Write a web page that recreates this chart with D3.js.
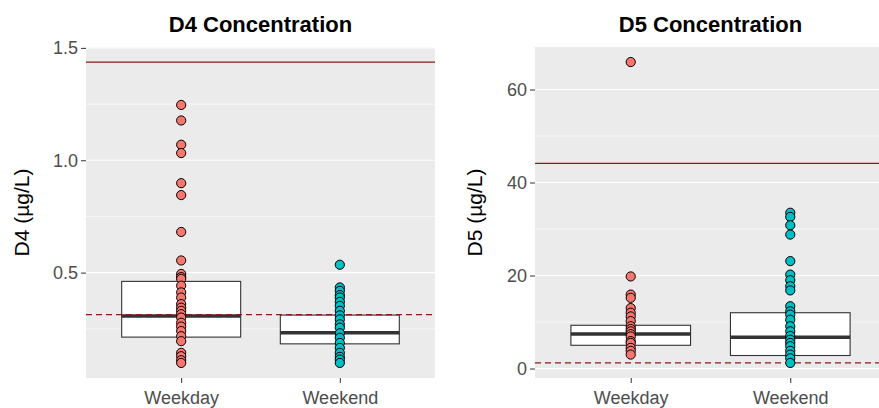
<!DOCTYPE html>
<html>
<head>
<meta charset="utf-8">
<script src="https://cdn.jsdelivr.net/npm/d3@7"></script>
<style>
  body { margin: 0; background: #fff; }
  svg { display: block; font-family: "Liberation Sans", Arial, sans-serif; }
</style>
</head>
<body>
<svg id="chart" width="879" height="408"></svg>
<script>
// categories and colours
const groups = ["Weekday", "Weekend"];
const groupColors = ["#F8766D", "#00BFC4"];

// D4 readings (ug/L)
const d4Weekday = [1.246, 1.177, 1.069, 1.032, 0.898, 0.845, 0.681, 0.554, 0.494, 0.48, 0.472, 0.442,
  0.412, 0.389, 0.36, 0.344, 0.33, 0.315, 0.30, 0.277, 0.26, 0.24, 0.217, 0.195, 0.143, 0.128, 0.11, 0.098];
const d4Weekend = [0.535, 0.434, 0.419, 0.40, 0.389, 0.37, 0.352, 0.33, 0.31, 0.292, 0.27, 0.255,
  0.23, 0.21, 0.187, 0.165, 0.143, 0.125, 0.113, 0.098];
// box stats [q1, median, q3] per group
const d4Boxes = [[0.213, 0.307, 0.461], [0.183, 0.232, 0.311]];
const d4Limits = [1.437, 0.313]; // solid, dashed

// D5 readings (ug/L)
const d5Weekday = [65.9, 19.8, 15.9, 15.2, 13.0, 12.0, 11.2, 10.2, 9.1, 8.5, 8.0, 7.4, 6.9, 5.9, 5.5, 4.45, 3.8, 3.0];
const d5Weekend = [33.5, 32.6, 30.8, 28.8, 23.1, 20.2, 19.0, 17.7, 16.8, 13.4, 12.3, 11.6, 10.5, 9.1,
  8.0, 7.0, 6.2, 5.5, 4.8, 3.8, 3.0, 2.2, 1.2];
const d5Boxes = [[5.0, 7.4, 9.3], [2.8, 6.7, 12.0]];
const d5Limits = [44.1, 1.2];

const d4Ticks = [0.5, 1.0, 1.5];
const d4Minor = [0.25, 0.75, 1.25];
const d5Ticks = [0, 20, 40, 60];
const d5Minor = [10, 30, 50];

const svg = d3.select("#chart");

function drawPanel(opt) {
  const top = 47, bottom = 378;
  const g = svg.append("g");

  const x = d3.scaleLinear().domain([0.4, 2.6]).range([opt.left, opt.right]);
  const all = opt.series.flat().concat(opt.limits);
  const lo = d3.min(all), hi = d3.max(all), pad = (hi - lo) * 0.05;
  const y = d3.scaleLinear().domain([lo - pad, hi + pad]).range([bottom, top]);

  g.append("rect")
    .attr("x", opt.left).attr("y", top)
    .attr("width", opt.right - opt.left).attr("height", bottom - top)
    .attr("fill", "#EBEBEB");

  g.selectAll(".minor").data(opt.minor).enter().append("line")
    .attr("x1", opt.left).attr("x2", opt.right)
    .attr("y1", d => y(d)).attr("y2", d => y(d))
    .attr("stroke", "#fff").attr("stroke-width", 0.6);
  g.selectAll(".major").data(opt.ticks).enter().append("line")
    .attr("x1", opt.left).attr("x2", opt.right)
    .attr("y1", d => y(d)).attr("y2", d => y(d))
    .attr("stroke", "#fff").attr("stroke-width", 1.2);

  // y axis
  const yAxis = g.append("g")
    .attr("transform", `translate(${opt.left},0)`)
    .call(d3.axisLeft(y).tickValues(opt.ticks).tickFormat(opt.fmt).tickSize(5).tickPadding(3));
  yAxis.select(".domain").remove();
  yAxis.selectAll("line").attr("stroke", "#333");
  yAxis.selectAll("text").attr("fill", "#4D4D4D").style("font-size", "18px")
    .style("font-family", "Liberation Sans, Arial, sans-serif");

  // x axis
  const xAxis = g.append("g")
    .attr("transform", `translate(0,${bottom})`)
    .call(d3.axisBottom(x).tickValues([1, 2]).tickFormat(d => groups[d - 1]).tickSize(5).tickPadding(8));
  xAxis.select(".domain").remove();
  xAxis.selectAll("line").attr("stroke", "#333");
  xAxis.selectAll("text").attr("fill", "#4D4D4D").style("font-size", "18px")
    .style("font-family", "Liberation Sans, Arial, sans-serif");

  // boxes
  const bw = 0.375;
  opt.boxes.forEach((b, i) => {
    const cx = i + 1;
    g.append("rect")
      .attr("x", x(cx - bw)).attr("y", y(b[2]))
      .attr("width", x(cx + bw) - x(cx - bw)).attr("height", y(b[0]) - y(b[2]))
      .attr("fill", "#fff").attr("stroke", "#333").attr("stroke-width", 1.1);
    g.append("line")
      .attr("x1", x(cx - bw)).attr("x2", x(cx + bw))
      .attr("y1", y(b[1])).attr("y2", y(b[1]))
      .attr("stroke", "#333").attr("stroke-width", 3.5);
  });

  // reference lines
  g.append("line")
    .attr("x1", opt.left).attr("x2", opt.right)
    .attr("y1", y(opt.limits[0])).attr("y2", y(opt.limits[0]))
    .attr("stroke", "#8B1A1A").attr("stroke-width", 1.2);
  g.append("line")
    .attr("x1", opt.left).attr("x2", opt.right)
    .attr("y1", y(opt.limits[1])).attr("y2", y(opt.limits[1]))
    .attr("stroke", "#8B1A1A").attr("stroke-width", 1.2).attr("stroke-dasharray", "6,4");

  // points
  opt.series.forEach((vals, i) => {
    g.selectAll(null).data(vals).enter().append("circle")
      .attr("cx", x(i + 1)).attr("cy", d => y(d))
      .attr("r", 4.6)
      .attr("fill", groupColors[i])
      .attr("stroke", "#000").attr("stroke-width", 1);
  });

  // titles
  g.append("text")
    .attr("x", (opt.left + opt.right) / 2).attr("y", 32)
    .attr("text-anchor", "middle")
    .style("font-size", "22px").style("font-weight", "bold")
    .text(opt.title);
  g.append("text")
    .attr("transform", `translate(${opt.titleX},${(top + bottom) / 2}) rotate(-90)`)
    .attr("text-anchor", "middle")
    .style("font-size", "21px")
    .text(opt.yLabel);
}

drawPanel({
  left: 86, right: 435, title: "D4 Concentration", yLabel: "D4 (\u00b5g/L)", titleX: 29,
  series: [d4Weekday, d4Weekend], boxes: d4Boxes, limits: d4Limits,
  ticks: d4Ticks, minor: d4Minor, fmt: d3.format(".1f")
});

drawPanel({
  left: 535, right: 886, title: "D5 Concentration", yLabel: "D5 (\u00b5g/L)", titleX: 482,
  series: [d5Weekday, d5Weekend], boxes: d5Boxes, limits: d5Limits,
  ticks: d5Ticks, minor: d5Minor, fmt: d3.format("d")
});
</script>
</body>
</html>
